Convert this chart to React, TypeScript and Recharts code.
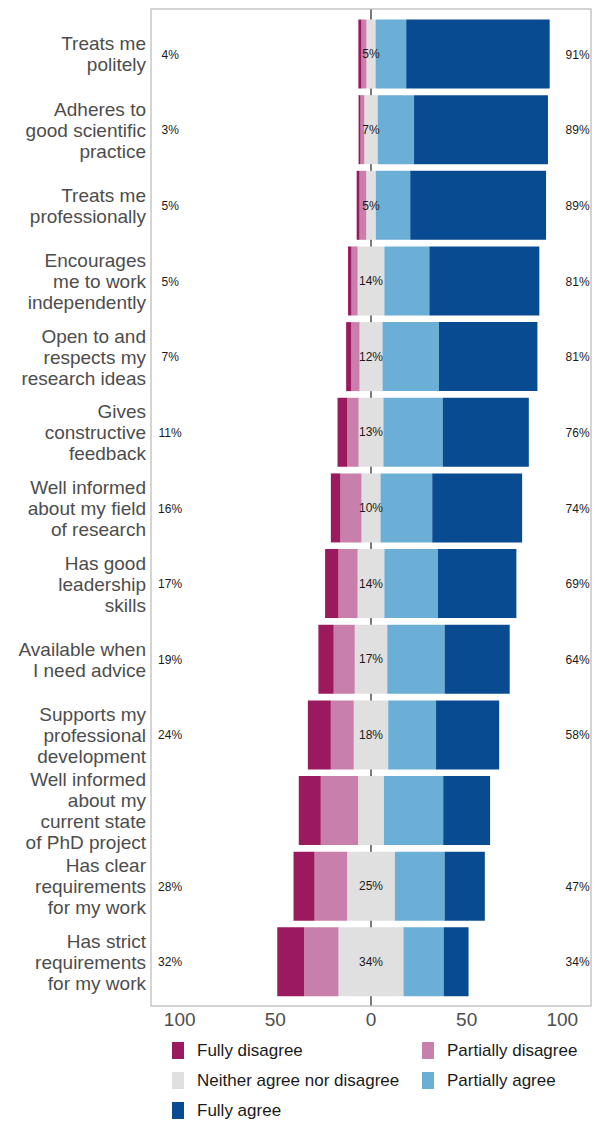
import React from "react";
import {
  BarChart,
  Bar,
  XAxis,
  YAxis,
  CartesianGrid,
  ReferenceDot,
  LabelList,
  usePlotArea,
} from "recharts";

const ITEMS = [
  "Treats me\npolitely",
  "Adheres to\ngood scientific\npractice",
  "Treats me\nprofessionally",
  "Encourages\nme to work\nindependently",
  "Open to and\nrespects my\nresearch ideas",
  "Gives\nconstructive\nfeedback",
  "Well informed\nabout my field\nof research",
  "Has good\nleadership\nskills",
  "Available when\nI need advice",
  "Supports my\nprofessional\ndevelopment",
  "Well informed\nabout my\ncurrent state\nof PhD project",
  "Has clear\nrequirements\nfor my work",
  "Has strict\nrequirements\nfor my work",
];

const FULLY_DISAGREE = [1.6, 1, 1.5, 1.8, 2.7, 5, 5, 7, 8, 12, 11.5, 11, 14];
const PARTIALLY_DISAGREE = [2.6, 2, 3.5, 3.2, 4.3, 6, 11, 10, 11, 12, 19.5, 17, 18];
const NEITHER = [4.8, 7, 5, 14, 12, 13, 10, 14, 17, 18, 13.5, 25, 34];
const PARTIALLY_AGREE = [16, 19, 18, 23.5, 29.5, 31, 27, 28, 30, 25, 31, 26, 21];
const FULLY_AGREE = [75, 70, 71, 57.5, 51.5, 45, 47, 41, 34, 33, 24.5, 21, 13];

const LOW_LABELS = ["4%", "3%", "5%", "5%", "7%", "11%", "16%", "17%", "19%", "24%", "", "28%", "32%"];
const MID_LABELS = ["5%", "7%", "5%", "14%", "12%", "13%", "10%", "14%", "17%", "18%", "", "25%", "34%"];
const HIGH_LABELS = ["91%", "89%", "89%", "81%", "81%", "76%", "74%", "69%", "64%", "58%", "", "47%", "34%"];

const X_TICKS = [-100, -50, 0, 50, 100];

const COLORS = {
  fd: "#9b1a5f",
  pd: "#c87fab",
  n: "#e0e0e0",
  pa: "#6baed6",
  fa: "#084b91",
};

const LEGEND = [
  { name: "Fully disagree", color: COLORS.fd },
  { name: "Partially disagree", color: COLORS.pd },
  { name: "Neither agree nor disagree", color: COLORS.n },
  { name: "Partially agree", color: COLORS.pa },
  { name: "Fully agree", color: COLORS.fa },
];

const FONT = '"Liberation Sans", Arial, Helvetica, sans-serif';

const data = ITEMS.map((item, i) => ({
  item,
  nLeft: -NEITHER[i] / 2,
  pdLeft: -PARTIALLY_DISAGREE[i],
  fdLeft: -FULLY_DISAGREE[i],
  nRight: NEITHER[i] / 2,
  pa: PARTIALLY_AGREE[i],
  fa: FULLY_AGREE[i],
  mid: MID_LABELS[i],
}));

function ItemTick({ x, y, payload }: any) {
  const lines = String(payload.value).split("\n");
  const lh = 21;
  const start = -((lines.length - 1) * lh) / 2;
  return (
    <text x={x} y={y} textAnchor="end" fill="#4d4d4d" fontSize={19}>
      {lines.map((line, i) => (
        <tspan key={i} x={x} y={y + start + i * lh} dy="0.35em">
          {line}
        </tspan>
      ))}
    </text>
  );
}

function MidLabel(props: any) {
  const vb = props.viewBox ?? props;
  if (!props.value) return null;
  return (
    <text
      x={vb.x}
      y={vb.y + vb.height / 2}
      dy="0.35em"
      textAnchor="middle"
      fontSize={12}
      fill="#1a1a1a"
    >
      {props.value}
    </text>
  );
}

function PanelBorder() {
  const area = usePlotArea();
  if (!area) return null;
  return (
    <rect
      x={area.x}
      y={area.y}
      width={area.width}
      height={area.height}
      fill="none"
      stroke="#b8b8b8"
      strokeWidth={1.2}
    />
  );
}

function sideLabel(text: string) {
  return { value: text, position: "center" as const, fontSize: 12, fill: "#1a1a1a" };
}

export default function App() {
  return (
    <div
      style={{
        position: "absolute",
        left: 0,
        top: 0,
        width: 599,
        height: 1122,
        background: "#fff",
        fontFamily: FONT,
      }}
    >
      <BarChart
        width={599}
        height={1040}
        data={data}
        layout="vertical"
        stackOffset="sign"
        barSize={69}
        margin={{ top: 9, right: 8, bottom: 0, left: 0 }}
      >
        <CartesianGrid horizontal={false} verticalValues={[0]} stroke="#7a7a7a" strokeWidth={2} />
        <XAxis
          type="number"
          domain={[-115, 115]}
          ticks={X_TICKS}
          interval={0}
          allowDataOverflow
          tickFormatter={(v) => String(Math.abs(Number(v)))}
          tick={{ fontSize: 19, fill: "#4d4d4d" }}
          tickLine={false}
          axisLine={false}
          tickSize={0}
          tickMargin={7}
          height={34}
        />
        <YAxis
          type="category"
          dataKey="item"
          width={151}
          interval={0}
          tick={<ItemTick />}
          tickLine={false}
          axisLine={false}
          tickSize={0}
          tickMargin={5}
          padding={{ top: 7.5, bottom: 6 }}
        />
        <Bar dataKey="nLeft" stackId="a" fill={COLORS.n} isAnimationActive={false} />
        <Bar dataKey="pdLeft" stackId="a" fill={COLORS.pd} isAnimationActive={false} />
        <Bar dataKey="fdLeft" stackId="a" fill={COLORS.fd} isAnimationActive={false} />
        <Bar dataKey="nRight" stackId="a" fill={COLORS.n} isAnimationActive={false}>
          <LabelList dataKey="mid" content={<MidLabel />} />
        </Bar>
        <Bar dataKey="pa" stackId="a" fill={COLORS.pa} isAnimationActive={false} />
        <Bar dataKey="fa" stackId="a" fill={COLORS.fa} isAnimationActive={false} />
        {ITEMS.map((item, i) =>
          LOW_LABELS[i] ? (
            <ReferenceDot key={`low-${i}`} x={-105} y={item} r={0} fill="none" stroke="none" label={sideLabel(LOW_LABELS[i])} />
          ) : null
        )}
        {ITEMS.map((item, i) =>
          HIGH_LABELS[i] ? (
            <ReferenceDot key={`high-${i}`} x={108} y={item} r={0} fill="none" stroke="none" label={sideLabel(HIGH_LABELS[i])} />
          ) : null
        )}
        <PanelBorder />
      </BarChart>

      <div
        style={{
          position: "absolute",
          left: 172,
          top: 1040,
          display: "grid",
          gridTemplateColumns: "250px 170px",
          rowGap: 9,
          fontSize: 17,
          color: "#1a1a1a",
        }}
      >
        {LEGEND.map((entry) => (
          <div key={entry.name} style={{ display: "flex", alignItems: "center", height: 21 }}>
            <span
              style={{
                display: "inline-block",
                width: 12,
                height: 17,
                background: entry.color,
                marginRight: 13,
              }}
            />
            <span style={{ whiteSpace: "nowrap" }}>{entry.name}</span>
          </div>
        ))}
      </div>
    </div>
  );
}
